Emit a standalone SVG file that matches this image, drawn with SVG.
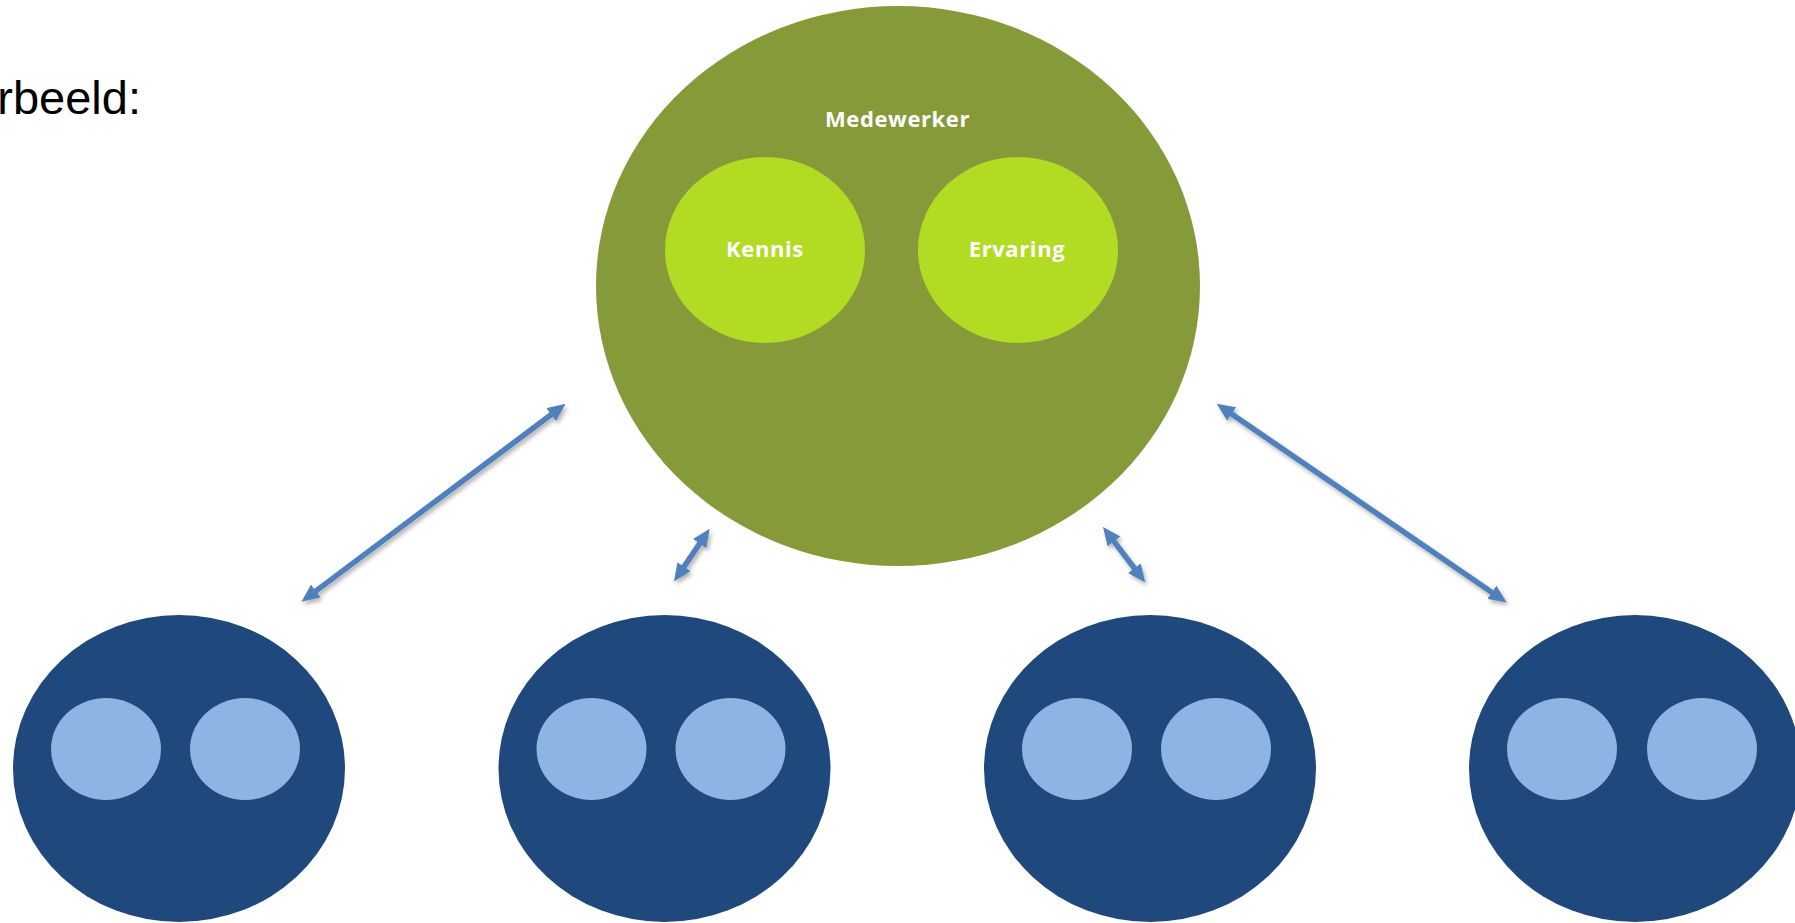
<svg xmlns="http://www.w3.org/2000/svg" width="1795" height="923" viewBox="0 0 1795 923">
<style>
.big{fill:#869A3A}
.inner{fill:#B2DB24}
.dark{fill:#1F497D}
.light{fill:#8EB4E3}
.lbl{font-family:"Open Sans","Liberation Sans",sans-serif;font-weight:700;font-size:22px;fill:#FFFFFF;text-anchor:middle;letter-spacing:0.6px}
.conn{stroke:#4F81BD;stroke-width:5.5;fill:none;marker-start:url(#ah);marker-end:url(#ah)}
</style>
<defs>
<marker id="ah" viewBox="0 0 18 16" refX="6" refY="8" markerWidth="18" markerHeight="16" markerUnits="userSpaceOnUse" orient="auto-start-reverse">
<path d="M0,0 L18,8 L0,16 Z" fill="#4F81BD"/>
</marker>
<filter id="sh" x="-20%" y="-20%" width="140%" height="140%">
<feDropShadow dx="2" dy="3" stdDeviation="2" flood-color="#000" flood-opacity="0.3"/>
</filter>
</defs>
<rect width="1795" height="923" fill="#FFFFFF"/>
<text x="141" y="114" text-anchor="end" font-family="'Liberation Sans',Arial,sans-serif" font-size="47" fill="#000000">Voorbeeld:</text>

<g id="medewerker">
<ellipse class="big" cx="898" cy="286" rx="302" ry="280"/>
<text class="lbl" x="897.5" y="127">Medewerker</text>
</g>
<g id="kennis">
<ellipse class="inner" cx="765" cy="250" rx="100" ry="93"/>
<text class="lbl" x="765" y="257">Kennis</text>
</g>
<g id="ervaring">
<ellipse class="inner" cx="1018" cy="250" rx="100" ry="93"/>
<text class="lbl" x="1017" y="257">Ervaring</text>
</g>

<g id="team1">
<ellipse class="dark" cx="179" cy="768.5" rx="166" ry="153.5"/>
<ellipse class="light" cx="106" cy="749" rx="55" ry="51"/>
<ellipse class="light" cx="245" cy="749" rx="55" ry="51"/>
</g>
<g id="team2">
<ellipse class="dark" cx="664.5" cy="768.5" rx="166" ry="153.5"/>
<ellipse class="light" cx="591.5" cy="749" rx="55" ry="51"/>
<ellipse class="light" cx="730.5" cy="749" rx="55" ry="51"/>
</g>
<g id="team3">
<ellipse class="dark" cx="1150" cy="768.5" rx="166" ry="153.5"/>
<ellipse class="light" cx="1077" cy="749" rx="55" ry="51"/>
<ellipse class="light" cx="1216" cy="749" rx="55" ry="51"/>
</g>
<g id="team4">
<ellipse class="dark" cx="1635" cy="768.5" rx="166" ry="153.5"/>
<ellipse class="light" cx="1562" cy="749" rx="55" ry="51"/>
<ellipse class="light" cx="1702" cy="749" rx="55" ry="51"/>
</g>

<g id="connectors" filter="url(#sh)">
<line class="conn" x1="311" y1="594.6" x2="556" y2="411"/>
<line class="conn" x1="680.7" y1="571.6" x2="703" y2="538.6"/>
<line class="conn" x1="1110.3" y1="536.6" x2="1138" y2="573"/>
<line class="conn" x1="1226.6" y1="410.5" x2="1496.8" y2="595.7"/>
</g>
</svg>
